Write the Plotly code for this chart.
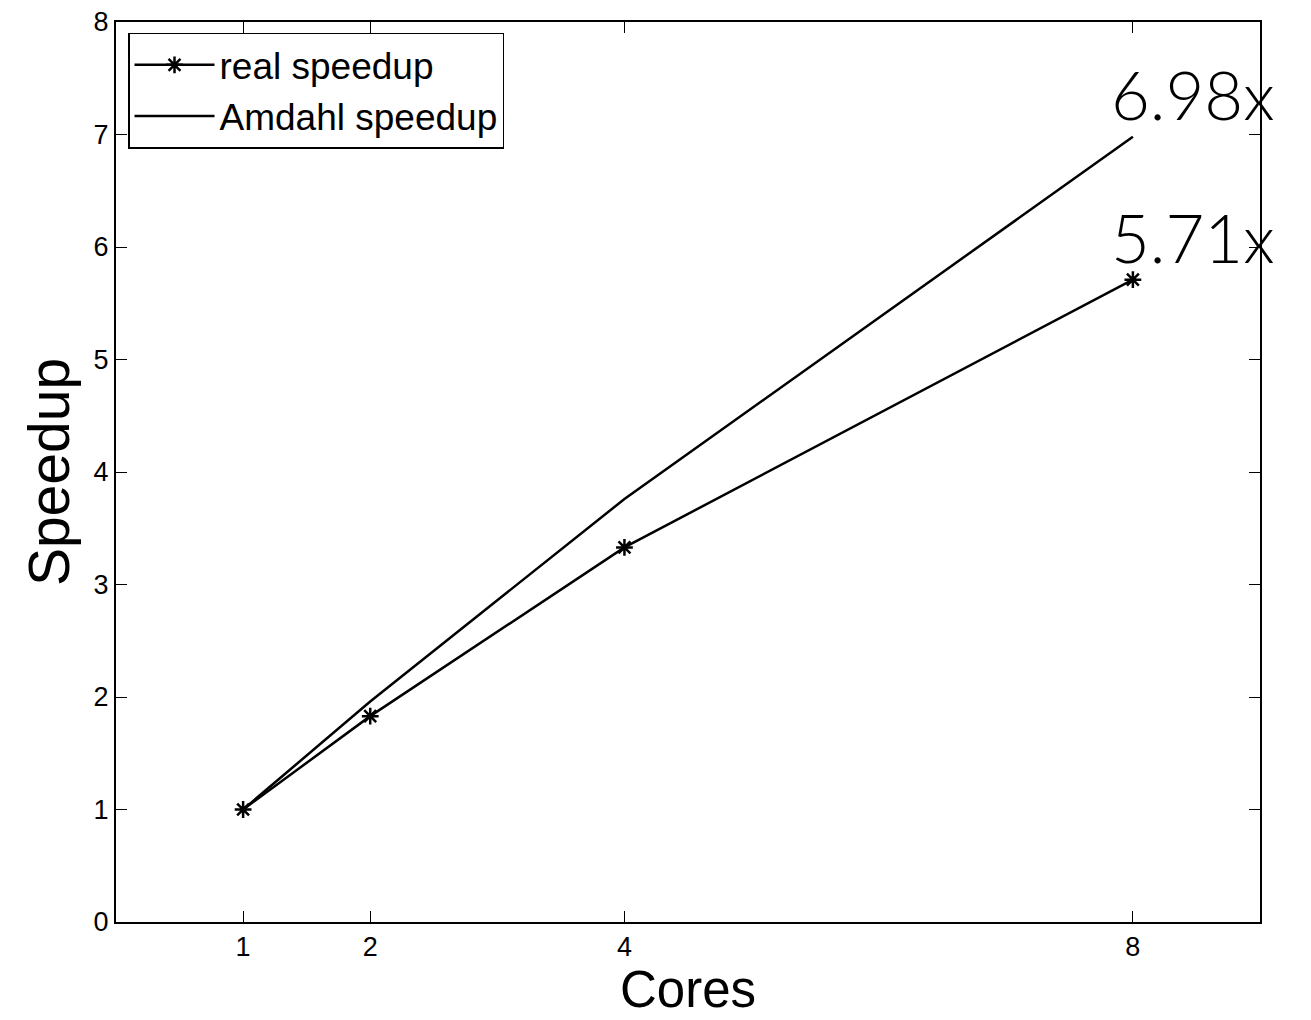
import plotly.graph_objects as go

cores = [1, 2, 4, 8]
real_speedup = [1.0, 1.83, 3.33, 5.71]
amdahl_speedup = [1.0, 1.96, 3.76, 6.98]
x_ticks = [1, 2, 4, 8]
y_ticks = [0, 1, 2, 3, 4, 5, 6, 7, 8]
labels = ["6.98x", "5.71x"]

fig = go.Figure()
fig.add_trace(go.Scatter(
    x=cores, y=real_speedup, name="real speedup", mode="lines+markers",
    line=dict(color="black", width=2.5),
    marker=dict(symbol="asterisk-open", size=14, color="black",
                line=dict(color="black", width=2.5)),
))
fig.add_trace(go.Scatter(
    x=cores, y=amdahl_speedup, name="Amdahl speedup", mode="lines",
    line=dict(color="black", width=2.5),
))

ann_font = dict(size=67, color="black", family="Lato", weight=300)
fig.add_annotation(x=cores[-1], y=amdahl_speedup[-1], text=labels[0], showarrow=False,
                   xanchor="left", yanchor="bottom", xshift=-24, yshift=1,
                   font=ann_font)
fig.add_annotation(x=cores[-1], y=real_speedup[-1], text=labels[1], showarrow=False,
                   xanchor="left", yanchor="bottom", xshift=-24, yshift=1,
                   font=ann_font)

# x-axis title placed as a paper annotation to keep it clear of tick labels
fig.add_annotation(x=0.5, y=-0.1089, xref="paper", yref="paper", text="Cores",
                   showarrow=False, xanchor="center", yanchor="bottom",
                   font=dict(size=51, color="black", family="Liberation Sans"))

axis_common = dict(
    showline=True, linecolor="black", linewidth=2, mirror="ticks",
    ticks="inside", ticklen=11, tickwidth=1, tickcolor="black",
    showgrid=False, zeroline=False,
    tickfont=dict(size=27, color="black", family="Liberation Sans"),
)
fig.update_xaxes(range=[0, 9], tickvals=x_ticks, ticktext=[str(v) for v in x_ticks],
                 automargin=False,
                 **axis_common)
fig.update_yaxes(range=[0, 8], tickvals=y_ticks,
                 title=dict(text="Speedup", font=dict(size=57, color="black", family="Liberation Sans"),
                            standoff=6),
                 automargin=False,
                 **axis_common)

fig.update_layout(
    width=1311, height=1020,
    margin=dict(l=116, r=51, t=22, b=98),
    paper_bgcolor="white", plot_bgcolor="white",
    showlegend=True,
    legend=dict(x=0.0105, y=0.988, xanchor="left", yanchor="top",
                bgcolor="white", bordercolor="black", borderwidth=1.5,
                font=dict(size=37, color="black", family="Liberation Sans"),
                itemwidth=80, tracegroupgap=0),
    font=dict(family="Liberation Sans", color="black"),
)

fig.write_html("out.html")
